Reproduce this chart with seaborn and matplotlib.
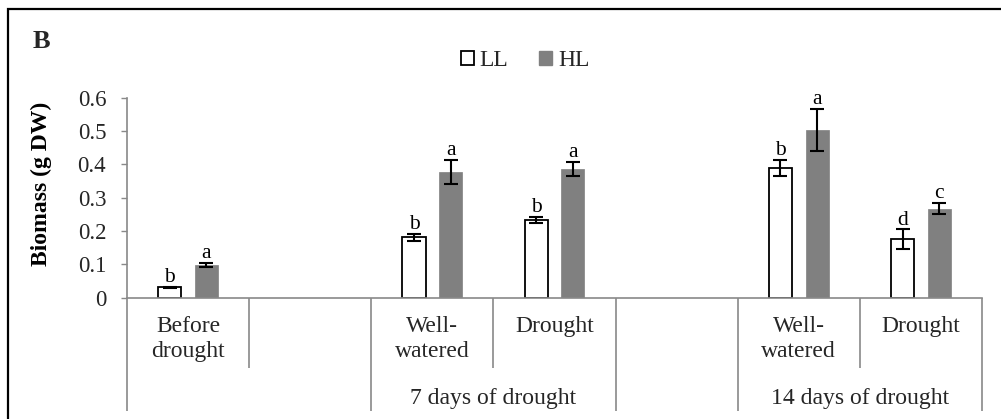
import numpy as np
import pandas as pd
import seaborn as sns
import matplotlib.pyplot as plt
from matplotlib.patches import Patch, Rectangle

# Category slots on the x axis (empty slots act as spacers between groups)
slot_keys = ["before", "gap1", "d7_ww", "d7_dr", "gap2", "d14_ww", "d14_dr"]
slot_labels = ["Before\ndrought", "", "Well-\nwatered", "Drought", "", "Well-\nwatered", "Drought"]
# Outer grouping: (first slot, last slot, label)
groups = [(0, 1, ""), (2, 3, "7 days of drought"), (4, 4, ""), (5, 6, "14 days of drought")]

# Measured treatments
treatments = ["before", "d7_ww", "d7_dr", "d14_ww", "d14_dr"]
light_levels = ["LL", "HL"]
ll_mean = [0.031, 0.181, 0.233, 0.389, 0.175]
hl_mean = [0.099, 0.377, 0.387, 0.504, 0.267]
ll_se = [0.002, 0.010, 0.010, 0.024, 0.030]
hl_se = [0.006, 0.036, 0.021, 0.063, 0.017]
ll_letters = ["b", "b", "b", "b", "d"]
hl_letters = ["a", "a", "a", "a", "c"]

df = pd.DataFrame({
    "slot": treatments * 2,
    "light": ["LL"] * len(treatments) + ["HL"] * len(treatments),
    "biomass": ll_mean + hl_mean,
    "se": ll_se + hl_se,
    "letter": ll_letters + hl_letters,
})

sns.set_theme(style="white")
plt.rcParams["font.family"] = ["Liberation Serif", "DejaVu Serif"]

AXIS_GREY = "#898989"
HL_GREY = "#808080"

fig = plt.figure(figsize=(10.01, 4.19), dpi=100)
ax = fig.add_axes([0.1269, 0.2895, 0.8541, 0.4773])

BAR_W = 0.6      # total dodge width per slot
GAP = 0.367      # gap between dodged bars
sns.barplot(data=df, x="slot", y="biomass", hue="light", order=slot_keys,
            hue_order=light_levels, palette={"LL": "white", "HL": HL_GREY},
            width=BAR_W, gap=GAP, errorbar=None, legend=False, ax=ax,
            saturation=1)

for p in ax.patches:
    fc = p.get_facecolor()
    if fc[0] > 0.9:
        p.set_edgecolor("black")
        p.set_linewidth(1.3)
    else:
        p.set_edgecolor(HL_GREY)
        p.set_linewidth(0.5)

# Error bars and significance letters
offsets = {"LL": -BAR_W / 4, "HL": BAR_W / 4}
for _, row in df.iterrows():
    x = slot_keys.index(row["slot"]) + offsets[row["light"]]
    ax.errorbar(x, row["biomass"], yerr=row["se"], fmt="none", ecolor="black",
                elinewidth=1.5, capsize=5, capthick=1.5, zorder=5)
    ax.annotate(row["letter"], (x, row["biomass"] + row["se"]),
                xytext=(0, 3.5), textcoords="offset points",
                ha="center", va="baseline", fontsize=15.5, color="black")

ax.set_xlim(-0.5, 6.5)
ax.set_ylim(0, 0.6)
yticks = np.round(np.arange(0, 0.61, 0.1), 1)
ax.set_yticks(yticks)
ax.set_yticklabels([f"{v:g}" for v in yticks], fontsize=16.5)
ax.tick_params(axis="y", direction="out", length=4, width=1, color=AXIS_GREY,
               pad=11, left=True)
ax.tick_params(axis="x", bottom=False, labelbottom=False)
ax.set_xlabel("")

for side in ["top", "right"]:
    ax.spines[side].set_visible(False)
for side in ["left", "bottom"]:
    ax.spines[side].set_color(AXIS_GREY)
    ax.spines[side].set_linewidth(1.2)

ax.set_ylabel("Biomass (g DW)", fontsize=17, fontweight="bold", color="black")
ax.yaxis.set_label_coords(-0.1006, 0.5685)
ax.yaxis.label.set_va("center")

# Two-level category axis drawn below the plot
xt = ax.get_xaxis_transform()
TIER1 = -0.352
TIER2 = -0.567
full_lines = {-0.5, 6.5}
for g0, g1, _ in groups:
    full_lines.add(g0 - 0.5)
    full_lines.add(g1 + 0.5)
for b in np.arange(-0.5, 7.0, 1.0):
    bottom = TIER2 if b in full_lines else TIER1
    ax.plot([b, b], [0, bottom], transform=xt, color=AXIS_GREY, lw=1.2,
            clip_on=False, solid_capstyle="butt")

for i, lab in enumerate(slot_labels):
    if lab:
        ax.text(i, -0.09, lab, transform=xt, ha="center", va="top",
                multialignment="center", fontsize=17, linespacing=1.25)
for g0, g1, lab in groups:
    if lab:
        ax.text((g0 + g1) / 2, -0.532, lab, transform=xt, ha="center",
                va="baseline", fontsize=17)

# Legend
handles = [Patch(facecolor="white", edgecolor="black", linewidth=1.3, label="LL"),
           Patch(facecolor=HL_GREY, edgecolor=HL_GREY, label="HL")]
fig.legend(handles=handles, loc="center", bbox_to_anchor=(525 / 1001, 1 - 61 / 419),
           ncol=2, frameon=False, fontsize=17, handlelength=0.55, handleheight=0.55,
           handletextpad=0.25, columnspacing=1.3)

# Panel letter
fig.text(33 / 1001, 1 - 48 / 419, "B", fontsize=19, fontweight="bold", va="baseline")

# Panel frame
fig.add_artist(Rectangle((8 / 1001, -0.5), 2.0, 1.5 - 9 / 419, transform=fig.transFigure,
                         fill=False, edgecolor="black", lw=1.6))

fig.savefig("out.png", dpi=100)
